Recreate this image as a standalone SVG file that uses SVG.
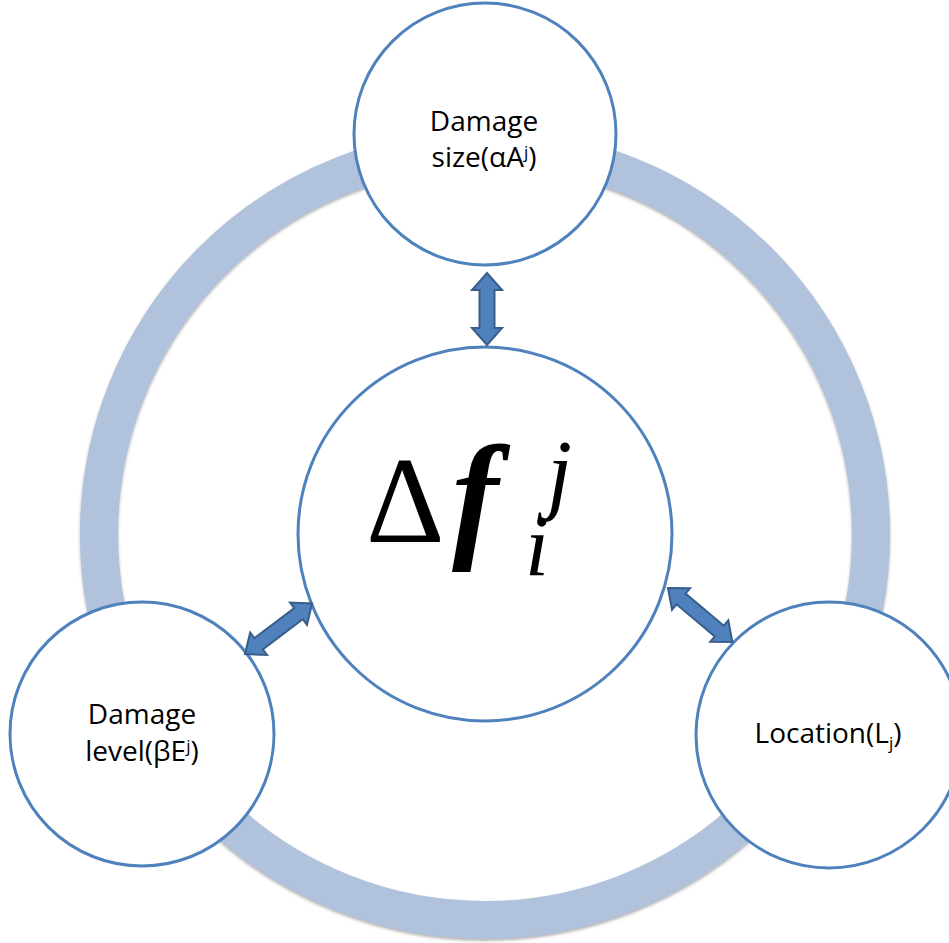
<svg xmlns="http://www.w3.org/2000/svg" width="949" height="943" viewBox="0 0 949 943">
  <defs>
    <filter id="shadow" x="-10%" y="-10%" width="120%" height="120%">
      <feDropShadow dx="0" dy="2" stdDeviation="1.5" flood-color="#808080" flood-opacity="0.6"/>
    </filter>
  </defs>
  <style>
    .node { fill: #ffffff; stroke: #4F81BD; stroke-width: 3; }
    .ring { fill: none; stroke: #B0C2DC; stroke-width: 38; }
    .arrow { fill: #4F81BD; stroke: #385D8A; stroke-width: 2; stroke-linejoin: miter; }
    .label { font-family: "Open Sans", "Noto Sans", "Liberation Sans", sans-serif; font-size: 28px; fill: #000000; text-anchor: middle; }
    .math { font-family: "Liberation Serif", "DejaVu Serif", serif; fill: #000000; }
  </style>

  <g id="cycle-ring">
    <circle class="ring" cx="485" cy="534" r="386" filter="url(#shadow)"/>
  </g>

  <g id="node-center">
    <circle class="node" cx="485" cy="534" r="187"/>
    <text class="math" x="366" y="542" font-size="122">Δ</text>
    <text class="math" x="452" y="542" font-size="140" font-weight="bold" font-style="italic">f</text>
    <text class="math" x="525" y="575" font-size="86" font-style="italic">i</text>
    <text class="math" x="547" y="503" font-size="90" font-style="italic">j</text>
  </g>

  <g id="node-size">
    <circle class="node" cx="485" cy="134" r="131"/>
    <text class="label" x="484" y="131">Damage</text>
    <text class="label" x="484" y="167">size(αA<tspan font-size="17" dy="-9">j</tspan><tspan dy="9">)</tspan></text>
  </g>

  <g id="node-level">
    <circle class="node" cx="142" cy="734" r="132"/>
    <text class="label" x="142" y="724">Damage</text>
    <text class="label" x="142" y="761">level(βE<tspan font-size="17" dy="-9">j</tspan><tspan dy="9">)</tspan></text>
  </g>

  <g id="node-location">
    <circle class="node" cx="829" cy="735" r="133"/>
    <text class="label" x="828" y="743">Location(L<tspan font-size="17" dy="6">j</tspan><tspan dy="-6">)</tspan></text>
  </g>

  <g id="connectors">
    <polygon class="arrow" transform="translate(487,273) rotate(90)" points="0,0 17,-15 17,-7.5 55,-7.5 55,-15 72,0 55,15 55,7.5 17,7.5 17,15"/>
    <polygon class="arrow" transform="translate(245,654) rotate(-37)" points="0,0 17,-14 17,-7 67,-7 67,-14 84,0 67,14 67,7 17,7 17,14"/>
    <polygon class="arrow" transform="translate(668,588) rotate(40)" points="0,0 17,-14 17,-7 67,-7 67,-14 84,0 67,14 67,7 17,7 17,14"/>
  </g>
</svg>
